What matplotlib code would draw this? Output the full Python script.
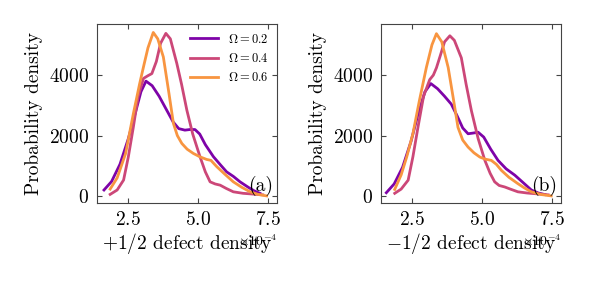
import numpy as np
import matplotlib
matplotlib.use("Agg")
import matplotlib.pyplot as plt

plt.rcParams['font.family'] = 'serif'
plt.rcParams['font.serif'] = ['cmr10']
plt.rcParams['mathtext.fontset'] = 'cm'
plt.rcParams['axes.formatter.use_mathtext'] = True
plt.rcParams['axes.unicode_minus'] = True

# curve samples, x in units of 1e-4
omegas = [0.2, 0.4, 0.6]
colors = ['#7e03a8', '#cc4778', '#f89540']

# panel (a): +1/2 defects
a_x02 = [1.63, 1.9, 2.2, 2.5, 2.75, 2.95, 3.13, 3.35, 3.6, 3.87, 4.1, 4.3, 4.52, 4.7, 4.88, 5.05, 5.25, 5.54, 5.8, 6.01, 6.25, 6.49, 6.8, 7.0, 7.2]
a_y02 = [200, 480, 1050, 1900, 2750, 3450, 3800, 3650, 3300, 2840, 2450, 2230, 2180, 2200, 2200, 2050, 1700, 1300, 1020, 800, 650, 470, 280, 170, 90]
a_x04 = [1.85, 2.1, 2.33, 2.5, 2.68, 2.85, 3.04, 3.2, 3.34, 3.5, 3.65, 3.84, 4.0, 4.23, 4.4, 4.59, 4.8, 5.06, 5.25, 5.42, 5.6, 5.78, 6.0, 6.25, 6.6, 6.96, 7.3]
a_y04 = [55, 200, 530, 1300, 2290, 3300, 3890, 3980, 4050, 4450, 5050, 5380, 5200, 4390, 3700, 2840, 2050, 1300, 800, 470, 400, 360, 250, 140, 90, 65, 40]
a_x06 = [1.85, 2.1, 2.4, 2.68, 2.9, 3.04, 3.2, 3.39, 3.55, 3.75, 3.95, 4.11, 4.25, 4.41, 4.6, 4.82, 5.05, 5.3, 5.45, 5.66, 5.95, 6.25, 6.55, 6.85, 7.15, 7.44]
a_y06 = [230, 600, 1400, 2730, 3700, 4270, 4900, 5410, 5200, 4600, 3400, 2400, 2000, 1740, 1550, 1410, 1300, 1210, 1180, 970, 720, 470, 290, 140, 50, 5]

# panel (b): -1/2 defects
b_x02 = [1.57, 1.85, 2.15, 2.45, 2.7, 2.95, 3.16, 3.4, 3.65, 3.89, 4.1, 4.3, 4.49, 4.65, 4.85, 5.05, 5.3, 5.56, 5.85, 6.16, 6.45, 6.75, 7.0, 7.23]
b_y02 = [110, 400, 950, 1800, 2700, 3450, 3720, 3550, 3300, 3040, 2650, 2250, 2060, 2080, 2110, 1950, 1550, 1180, 900, 690, 450, 200, 100, 50]
b_x04 = [1.87, 2.1, 2.35, 2.52, 2.7, 2.9, 3.12, 3.25, 3.36, 3.5, 3.65, 3.84, 4.0, 4.25, 4.42, 4.61, 4.85, 5.09, 5.28, 5.44, 5.6, 5.8, 6.0, 6.27, 6.6, 6.99, 7.35]
b_y04 = [90, 230, 525, 1300, 2270, 3300, 3850, 4000, 4240, 4650, 5100, 5300, 5150, 4570, 3700, 2820, 1900, 1180, 750, 470, 350, 300, 230, 140, 100, 70, 40]
b_x06 = [1.87, 2.1, 2.3, 2.52, 2.75, 3.0, 3.2, 3.36, 3.55, 3.78, 3.95, 4.13, 4.3, 4.49, 4.7, 4.91, 5.1, 5.32, 5.5, 5.68, 5.95, 6.27, 6.5, 6.75, 7.1, 7.46]
b_y06 = [220, 700, 1300, 2060, 3150, 4250, 5000, 5370, 5100, 4250, 3300, 2270, 1850, 1620, 1430, 1290, 1220, 1180, 1050, 850, 620, 410, 270, 140, 50, 5]

panels = [
    (r'$+1/2$ defect density', '(a)', [(a_x02, a_y02), (a_x04, a_y04), (a_x06, a_y06)]),
    (r'$-1/2$ defect density', '(b)', [(b_x02, b_y02), (b_x04, b_y04), (b_x06, b_y06)]),
]

fig = plt.figure(figsize=(5.98, 2.96), dpi=100)
lefts = [97 / 598, 381 / 598]
for k, (xlab, tag, curves) in enumerate(panels):
    ax = fig.add_axes([lefts[k], 1 - 203 / 296, 180 / 598, 179 / 296])
    for om, c, (xs, ys) in zip(omegas, colors, curves):
        ax.plot(np.array(xs) * 1e-4, ys, color=c, lw=2, label=r'$\Omega = %.1f$' % om)
    ax.set_xlim(1.38e-4, 7.81e-4)
    ax.set_ylim(-230, 5690)
    ax.set_xticks([2.5e-4, 5.0e-4, 7.5e-4])
    ax.set_yticks([0, 2000, 4000])
    ax.ticklabel_format(axis='x', style='sci', scilimits=(0, 0))
    ax.tick_params(direction='in', top=True, right=True, labelsize=14, length=3.5, color='#444444')
    ax.tick_params(axis='x', pad=6)
    ax.tick_params(axis='y', pad=6)
    for s in ax.spines.values():
        s.set_color('#444444')
    ax.xaxis.get_offset_text().set_fontsize(10)
    ax.set_xlabel(xlab, fontsize=14, labelpad=1)
    ax.set_ylabel('Probability density', fontsize=14, labelpad=4)
    ax.text(0.98, 0.04, tag, transform=ax.transAxes, ha='right', va='bottom', fontsize=14)
    if k == 0:
        ax.legend(loc='upper right', frameon=False, fontsize=9, handlelength=2.2,
                  borderaxespad=0.3, labelspacing=0.5)

fig.savefig('out.png', dpi=100)
